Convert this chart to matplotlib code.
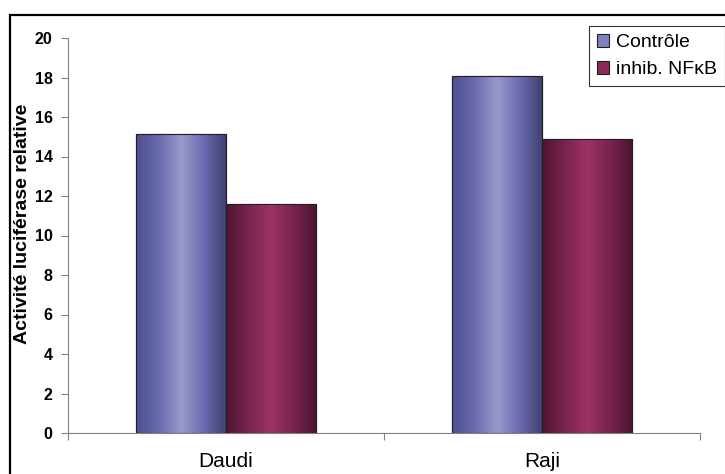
import matplotlib
matplotlib.use("Agg")
import matplotlib.pyplot as plt
import numpy as np
from matplotlib.patches import Rectangle
from matplotlib.colors import LinearSegmentedColormap

categories = ["Daudi", "Raji"]
series_names = ["Contrôle", "inhib. NFκB"]
controle = [15.15, 18.1]
inhib = [11.6, 14.9]
yticks = [0, 2, 4, 6, 8, 10, 12, 14, 16, 18, 20]

plt.rcParams['font.family'] = ['Liberation Sans', 'DejaVu Sans']

W, H = 725, 474
fig = plt.figure(figsize=(W/100, H/100), dpi=100)
ax = fig.add_axes([68/W, 1-433/H, (700-68)/W, (433-38)/H])

n = len(categories)
x = np.arange(n)
bw = 1/3.5
axis_gray = "#808080"

cmaps = [
    LinearSegmentedColormap.from_list("b", ["#4d4d8f", "#6a6ab0", "#9a9acc", "#6a6ab0", "#3e3e70"]),
    LinearSegmentedColormap.from_list("m", ["#4f1530", "#7a2450", "#9c3366", "#782250", "#4a1430"]),
]
base_cols = ["#8080c0", "#8b2a5a"]

bars_all = []
for i, vals in enumerate([controle, inhib]):
    bars = ax.bar(x + (i - 0.5) * bw, vals, width=bw, color=base_cols[i],
                  edgecolor="#202020", linewidth=0.8, zorder=2, label=series_names[i])
    bars_all.append((bars, cmaps[i]))

grad = np.linspace(0, 1, 256).reshape(1, -1)
for bars, cm in bars_all:
    for b in bars:
        x0, y0 = b.get_x(), b.get_y()
        w, h = b.get_width(), b.get_height()
        im = ax.imshow(grad, cmap=cm, aspect="auto", extent=[x0, x0 + w, y0, y0 + h],
                       zorder=2.5, interpolation="bicubic")
        im.set_clip_path(b)
        r = Rectangle((x0, y0), w, h, fill=False, edgecolor="#202020", linewidth=0.8, zorder=3)
        ax.add_patch(r)

ax.set_xlim(-0.5, n - 0.5)
ax.set_ylim(0, 20)
ax.set_yticks(yticks)
ax.set_yticklabels([str(t) for t in yticks], fontsize=11.5, fontweight="bold")
ax.set_xticks(x)
ax.set_xticklabels(categories, fontsize=15)
ax.tick_params(axis="x", length=0, pad=14)
ax.tick_params(axis="y", length=5, width=0.8, color=axis_gray, pad=6)
# category boundary ticks
ax.set_xticks(np.arange(n + 1) - 0.5, minor=True)
ax.tick_params(axis="x", which="minor", length=5, width=0.8, color=axis_gray)

for s in ["top", "right"]:
    ax.spines[s].set_visible(False)
for s in ["left", "bottom"]:
    ax.spines[s].set_color(axis_gray)
    ax.spines[s].set_linewidth(0.8)

ax.set_ylabel("Activité luciférase relative", fontsize=14, fontweight="bold")
ax.yaxis.set_label_coords(-0.0585, 0.53)

leg = ax.legend(loc="upper left", bbox_to_anchor=(589/W, 1-26/H), bbox_transform=fig.transFigure,
                fontsize=14, frameon=True, fancybox=False, borderpad=0.4, labelspacing=0.5,
                handlelength=0.65, handleheight=0.65, handletextpad=0.35, borderaxespad=0)
leg.get_frame().set_edgecolor("black")
leg.get_frame().set_linewidth(0.8)
for h, c in zip(leg.legend_handles, base_cols):
    h.set_edgecolor("#202020")
    h.set_linewidth(0.8)

# outer chart border (cropped at right/bottom)
fig.add_artist(Rectangle((10/W, -0.1), 1.2, 1 - 15/H + 0.1, transform=fig.transFigure,
                         fill=False, edgecolor="black", linewidth=1.6))

fig.savefig("out.png", dpi=100)
